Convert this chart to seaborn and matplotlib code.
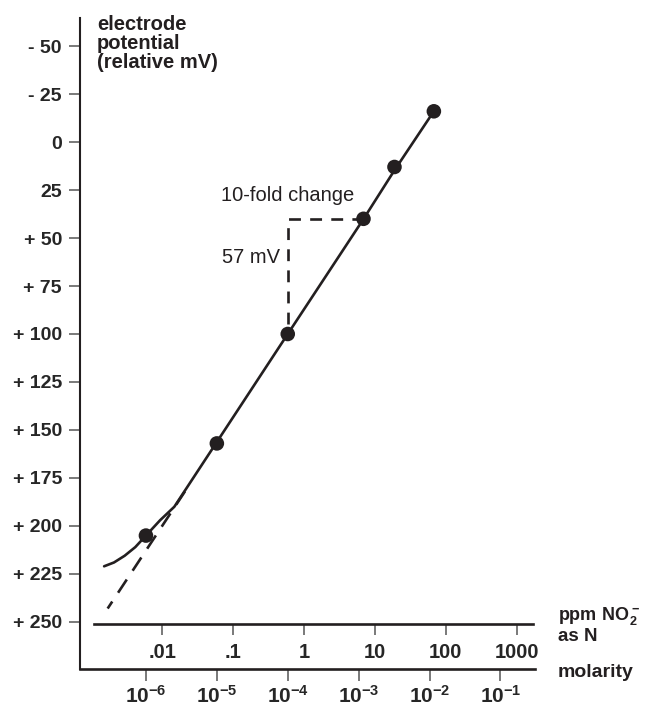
"""
Nitrite electrode response curve (electrode potential vs concentration)
"""
import numpy as np
import pandas as pd
import matplotlib
matplotlib.use('Agg')
import matplotlib.pyplot as plt
import seaborn as sns

# measured points (molarity, relative mV)
point_molarity = [1e-6, 1e-5, 1e-4, 1.17e-3, 3.2e-3, 1.15e-2]
point_mv = [205, 157, 100, 40, 13, -16]

# electrode response curve, log10 molarity vs mV
curve_logm = [-6.59, -6.45, -6.30, -6.15, -6.0, -5.8, -5.6, -4.0, -2.93, -2.5, -1.94]
curve_mv = [221, 219, 215.5, 211, 205, 197, 190, 100, 40, 15, -16]

# Nernstian extrapolation at low concentration
extrap_logm = [-5.45, -6.54]
extrap_mv = [182, 243]

# 10-fold change triangle
tri_molarity = [1e-4, 1e-4, 1.17e-3]
tri_mv = [95, 40, 40]

yticks = [-50, -25, 0, 25, 50, 75, 100, 125, 150, 175, 200, 225, 250]
ytick_labels = ['- 50', '- 25', '0', '25', '+ 50', '+ 75', '+ 100', '+ 125',
                '+ 150', '+ 175', '+ 200', '+ 225', '+ 250']
molarity_ticks = [1e-6, 1e-5, 1e-4, 1e-3, 1e-2, 1e-1]
molarity_labels = [r'$\mathbf{10^{-6}}$', r'$\mathbf{10^{-5}}$', r'$\mathbf{10^{-4}}$',
                   r'$\mathbf{10^{-3}}$', r'$\mathbf{10^{-2}}$', r'$\mathbf{10^{-1}}$']
ppm_ticks = [0.01, 0.1, 1, 10, 100, 1000]
ppm_labels = ['.01', '.1', '1', '10', '100', '1000']
PPM_PER_M = 10 ** 3.77   # offset between the two scales as drawn

INK = '#231f20'
FONT = 'Liberation Sans'

sns.set_theme(style='white')
plt.rcParams['font.family'] = [FONT, 'DejaVu Sans']
plt.rcParams['mathtext.fontset'] = 'custom'
plt.rcParams['mathtext.rm'] = FONT
plt.rcParams['mathtext.bf'] = FONT + ':bold'
plt.rcParams['text.color'] = INK

fig = plt.figure(figsize=(6.48, 7.12), dpi=100)
ax = fig.add_axes([80 / 648, 1 - 669 / 712, 455 / 648, 651 / 712])

curve = pd.DataFrame({'molarity': 10 ** np.array(curve_logm), 'mv': curve_mv})
extrap = pd.DataFrame({'molarity': 10 ** np.array(extrap_logm), 'mv': extrap_mv})
tri = pd.DataFrame({'molarity': tri_molarity, 'mv': tri_mv})
pts = pd.DataFrame({'molarity': point_molarity, 'mv': point_mv})

sns.lineplot(data=curve, x='molarity', y='mv', ax=ax, color=INK, lw=1.9,
             estimator=None, sort=False)
sns.lineplot(data=extrap, x='molarity', y='mv', ax=ax, color=INK, lw=1.9,
             estimator=None, sort=False, linestyle=(0, (6, 4)))
sns.lineplot(data=tri, x='molarity', y='mv', ax=ax, color=INK, lw=1.9,
             estimator=None, sort=False, linestyle=(0, (4.5, 3.5)))
sns.scatterplot(data=pts, x='molarity', y='mv', ax=ax, color=INK, s=110,
                edgecolor='none', zorder=5)

ax.set_xscale('log')
ax.set_xlim(10 ** -6.93, 10 ** -0.513)
ax.set_ylim(274.5, -64.6)

for side in ['top', 'right']:
    ax.spines[side].set_visible(False)
ax.spines['left'].set_linewidth(1.5)
ax.spines['bottom'].set_linewidth(1.9)
ax.spines['left'].set_color(INK)
ax.spines['bottom'].set_color(INK)

ax.set_yticks(yticks)
ax.set_yticklabels(ytick_labels, fontsize=14, fontweight='bold')
ax.set_xticks(molarity_ticks)
ax.set_xticklabels(molarity_labels, fontsize=15)
ax.xaxis.set_minor_locator(matplotlib.ticker.NullLocator())
ax.tick_params(axis='y', direction='out', length=8, width=1.1, color='#555555',
               pad=5, left=True)
ax.tick_params(axis='x', direction='out', length=8.5, width=1.1, color='#555555',
               pad=3, bottom=True)
ax.set_xlabel('')
ax.set_ylabel('')

# ppm axis drawn inside the plot at +250 mV
secax = ax.secondary_xaxis((274.5 - 251) / 339.1,
                           functions=(lambda m: m * PPM_PER_M, lambda p: p / PPM_PER_M))
secax.set_xticks(ppm_ticks)
secax.set_xticklabels(ppm_labels, fontsize=14.5, fontweight='bold')
secax.xaxis.set_minor_locator(matplotlib.ticker.NullLocator())
secax.tick_params(axis='x', direction='out', length=8, width=1.1, color='#555555', pad=6)
secax.spines['bottom'].set_linewidth(1.9)
secax.spines['bottom'].set_color(INK)
secax.spines['bottom'].set_bounds(10 ** -2.96, 10 ** 3.23)

ax.text(10 ** -4.94, 27.6, '10-fold change', fontsize=14.5, va='center', ha='left')
ax.text(10 ** -4.11, 60.4, '57 mV', fontsize=14.5, va='center', ha='right')

fig.text(97 / 648, 1 - 15 / 712, 'electrode\npotential\n(relative mV)',
         fontsize=14.5, fontweight='bold', va='top', ha='left', linespacing=1.0)
fig.text(558 / 648, 1 - 620 / 712, r'$\mathbf{ppm\ NO_2^-}$', fontsize=13,
         va='baseline', ha='left')
fig.text(558 / 648, 1 - 641 / 712, 'as N', fontsize=13.5, fontweight='bold',
         va='baseline', ha='left')
fig.text(558 / 648, 1 - 677 / 712, 'molarity', fontsize=14, fontweight='bold',
         va='baseline', ha='left')

fig.savefig('out.png', dpi=100)
